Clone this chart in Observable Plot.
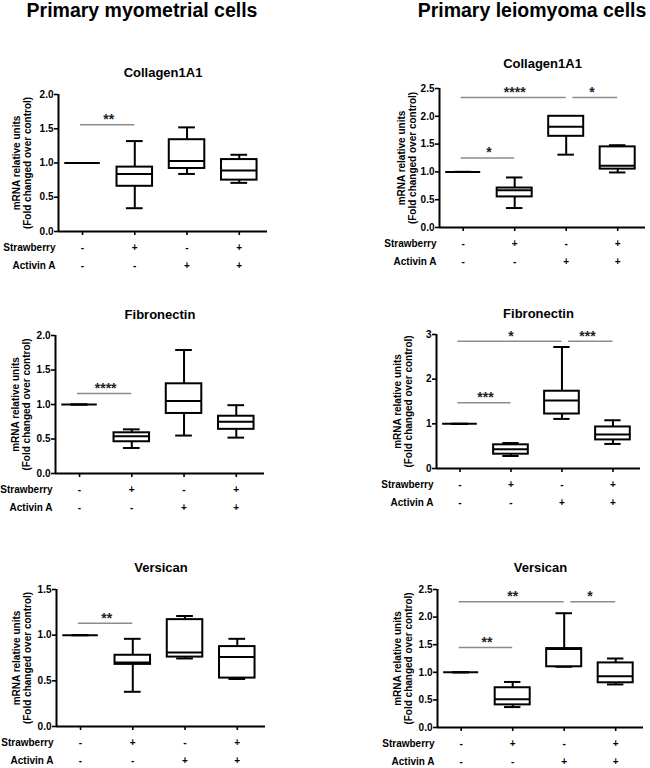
<!DOCTYPE html>
<html><head><meta charset="utf-8">
<script src="https://cdn.jsdelivr.net/npm/d3@7"></script>
<script src="https://cdn.jsdelivr.net/npm/@observablehq/plot@0.6"></script>
<style>
body{margin:0;background:#fff;}
#root{position:relative;width:650px;height:768px;overflow:hidden;font-family:"Liberation Sans",Arial,sans-serif;}
.main{position:absolute;top:0;font-size:19.5px;font-weight:bold;line-height:20px;white-space:nowrap;transform:translateX(-50%);color:#000;}
.panel{position:absolute;}
</style></head><body><div id="root"></div>
<script>
// Treatment rows (tick labels)
const strawberry = ["-", "+", "-", "+"];
const activinA   = ["-", "-", "+", "+"];
const columnTitles = ["Primary myometrial cells", "Primary leiomyoma cells"];
const geneTitles = ["Collagen1A1", "Fibronectin", "Versican"];
const yAxisLabel = "mRNA relative units\n(Fold changed over control)";

// Box stats per group: [min, q1, median, q3, max]
const myoCollagen  = [[1,1,1,1,1],[0.34,0.66,0.84,0.94,1.32],[0.84,0.92,1.03,1.34,1.52],[0.71,0.75,0.89,1.05,1.12]];
const leioCollagen = [[1,1,1,1,1],[0.35,0.55,0.67,0.71,0.90],[1.31,1.64,1.81,2.00,2.00],[0.99,1.05,1.11,1.45,1.48]];
const myoFibro     = [[1,1,1,1,1],[0.37,0.46,0.54,0.59,0.64],[0.55,0.87,1.05,1.30,1.79],[0.52,0.64,0.75,0.83,0.99]];
const leioFibro    = [[1,1,1,1,1],[0.28,0.32,0.43,0.53,0.57],[1.11,1.22,1.52,1.73,2.72],[0.55,0.64,0.76,0.93,1.08]];
const myoVersican  = [[1,1,1,1,1],[0.38,0.68,0.70,0.78,0.96],[0.745,0.76,0.81,1.17,1.21],[0.52,0.53,0.76,0.875,0.96]];
const leioVersican = [[1,1,1,1,1],[0.37,0.41,0.51,0.72,0.825],[1.10,1.10,1.42,1.43,2.07],[0.78,0.81,0.93,1.17,1.25]];

// Significance: [fromGroup, toGroup, y, stars]
const myoCollagenSig  = [[0,1,1.56,"**"]];
const leioCollagenSig = [[0,1,1.25,"*"],[0,2,2.34,"****"],[2,3,2.34,"*"]];
const myoFibroSig     = [[0,1,1.16,"****"]];
const leioFibroSig    = [[0,1,1.47,"***"],[0,2,2.85,"*"],[2,3,2.85,"***"]];
const myoVersicanSig  = [[0,1,1.13,"**"]];
const leioVersicanSig = [[0,1,1.45,"**"],[0,2,2.28,"**"],[2,3,2.28,"*"]];

// Y tick values
const ticks15 = [0, 0.5, 1, 1.5];
const ticks20 = [0, 0.5, 1, 1.5, 2];
const ticks25 = [0, 0.5, 1, 1.5, 2, 2.5];
const ticks3  = [0, 1, 2, 3];

const f1 = d3.format(".1f"), f0 = d3.format("d");

const panels = [
  {stats: myoCollagen,  sig: myoCollagenSig,  title: 0, yMax: 2,   ticks: ticks20, fmt: f1, ax: 58,  top: 94,  bottom: 231, w: 209, titleDy: -22, labelDx: -36.5},
  {stats: leioCollagen, sig: leioCollagenSig, title: 0, yMax: 2.5, ticks: ticks25, fmt: f1, ax: 439, top: 88,  bottom: 227, w: 206, titleDy: -25, labelDx: -32.5},
  {stats: myoFibro,     sig: myoFibroSig,     title: 1, yMax: 2,   ticks: ticks20, fmt: f1, ax: 55,  top: 335, bottom: 473, w: 209, titleDy: -21, labelDx: -34.5},
  {stats: leioFibro,    sig: leioFibroSig,    title: 1, yMax: 3,   ticks: ticks3,  fmt: f0, ax: 436, top: 334, bottom: 468, w: 204, titleDy: -21, labelDx: -33.5},
  {stats: myoVersican,  sig: myoVersicanSig,  title: 2, yMax: 1.5, ticks: ticks15, fmt: f1, ax: 56,  top: 589, bottom: 726, w: 209, titleDy: -22, labelDx: -34.5},
  {stats: leioVersican, sig: leioVersicanSig, title: 2, yMax: 2.5, ticks: ticks25, fmt: f1, ax: 437, top: 589, bottom: 727, w: 206, titleDy: -22, labelDx: -34.5}
];

const root = document.getElementById("root");
[142, 532].forEach((cx, k) => {
  const d = document.createElement("div");
  d.className = "main"; d.style.left = cx + "px"; d.textContent = columnTitles[k];
  root.appendChild(d);
});

const ML = 60, MT = 36, MB = 46, MR = 6;
const xDomain = [-0.46, 3.54];
const boxHalf = 0.34, capHalf = 0.16;

panels.forEach(p => {
  const rows = p.stats.map((s, i) => ({i, min: s[0], q1: s[1], med: s[2], q3: s[3], max: s[4], straw: strawberry[i], act: activinA[i]}));
  const sig = p.sig.map(([a, b, y, t]) => ({a, b, y, t}));
  const shifted = d => sig.some(o => o !== d && o.b === d.a) ? 0.13 : -0.04;
  const h = p.bottom - p.top;
  const chart = Plot.plot({
    width: ML + p.w + MR, height: MT + h + MB,
    marginLeft: ML, marginTop: MT, marginBottom: MB, marginRight: MR,
    style: {fontFamily: '"Liberation Sans", Arial, sans-serif', fontSize: "10px", fontWeight: "bold", color: "#000", background: "transparent", overflow: "visible"},
    x: {domain: xDomain, label: null},
    y: {domain: [0, p.yMax], label: null},
    marks: [
      Plot.axisY({ticks: p.ticks, tickFormat: p.fmt, tickSize: 4, tickPadding: 1, strokeWidth: 1.6, label: null}),
      Plot.axisX({ticks: [0, 1, 2, 3], tickFormat: () => "", tickSize: 4, strokeWidth: 1.6, label: null}),
      Plot.ruleX([xDomain[0]], {strokeWidth: 2}),
      Plot.ruleY([0], {strokeWidth: 2}),
      Plot.ruleY(sig, {x1: d => d.a + shifted(d), x2: "b", y: "y", stroke: "#8c8c8c", strokeWidth: 1.5}),
      Plot.text(sig, {x: d => (d.a + d.b) / 2, y: "y", text: "t", dy: -5, fontSize: 14, fill: "#222", lineAnchor: "middle"}),
      Plot.ruleX(rows, {x: "i", y1: "min", y2: "max", strokeWidth: 2}),
      Plot.ruleY(rows, {x1: d => d.i - capHalf, x2: d => d.i + capHalf, y: "min", strokeWidth: 2}),
      Plot.ruleY(rows, {x1: d => d.i - capHalf, x2: d => d.i + capHalf, y: "max", strokeWidth: 2}),
      Plot.rect(rows, {x1: d => d.i - boxHalf, x2: d => d.i + boxHalf, y1: "q1", y2: "q3", fill: "white", stroke: "black", strokeWidth: 2}),
      Plot.ruleY(rows, {x1: d => d.i - boxHalf, x2: d => d.i + boxHalf, y: "med", strokeWidth: 2}),
      Plot.text(rows, {x: "i", text: "straw", frameAnchor: "bottom", dy: 16.5, lineAnchor: "middle", fontSize: 10}),
      Plot.text(rows, {x: "i", text: "act", frameAnchor: "bottom", dy: 34.5, lineAnchor: "middle", fontSize: 10}),
      Plot.text(["Strawberry"], {text: d => d, frameAnchor: "bottom-left", textAnchor: "end", dx: -3, dy: 16.5, lineAnchor: "middle", fontSize: 10}),
      Plot.text(["Activin A"], {text: d => d, frameAnchor: "bottom-left", textAnchor: "end", dx: -3, dy: 34.5, lineAnchor: "middle", fontSize: 10}),
      Plot.text([yAxisLabel], {text: d => d, frameAnchor: "left", rotate: -90, dx: p.labelDx, textAnchor: "middle", lineAnchor: "middle", lineHeight: 1.1, fontSize: 10}),
      Plot.text([geneTitles[p.title]], {text: d => d, frameAnchor: "top", dy: p.titleDy, lineAnchor: "middle", fontSize: 13})
    ]
  });
  chart.classList.add("panel");
  chart.style.left = (p.ax - ML) + "px";
  chart.style.top = (p.top - MT) + "px";
  chart.style.maxWidth = "none";
  root.appendChild(chart);
});
</script>
</body></html>
